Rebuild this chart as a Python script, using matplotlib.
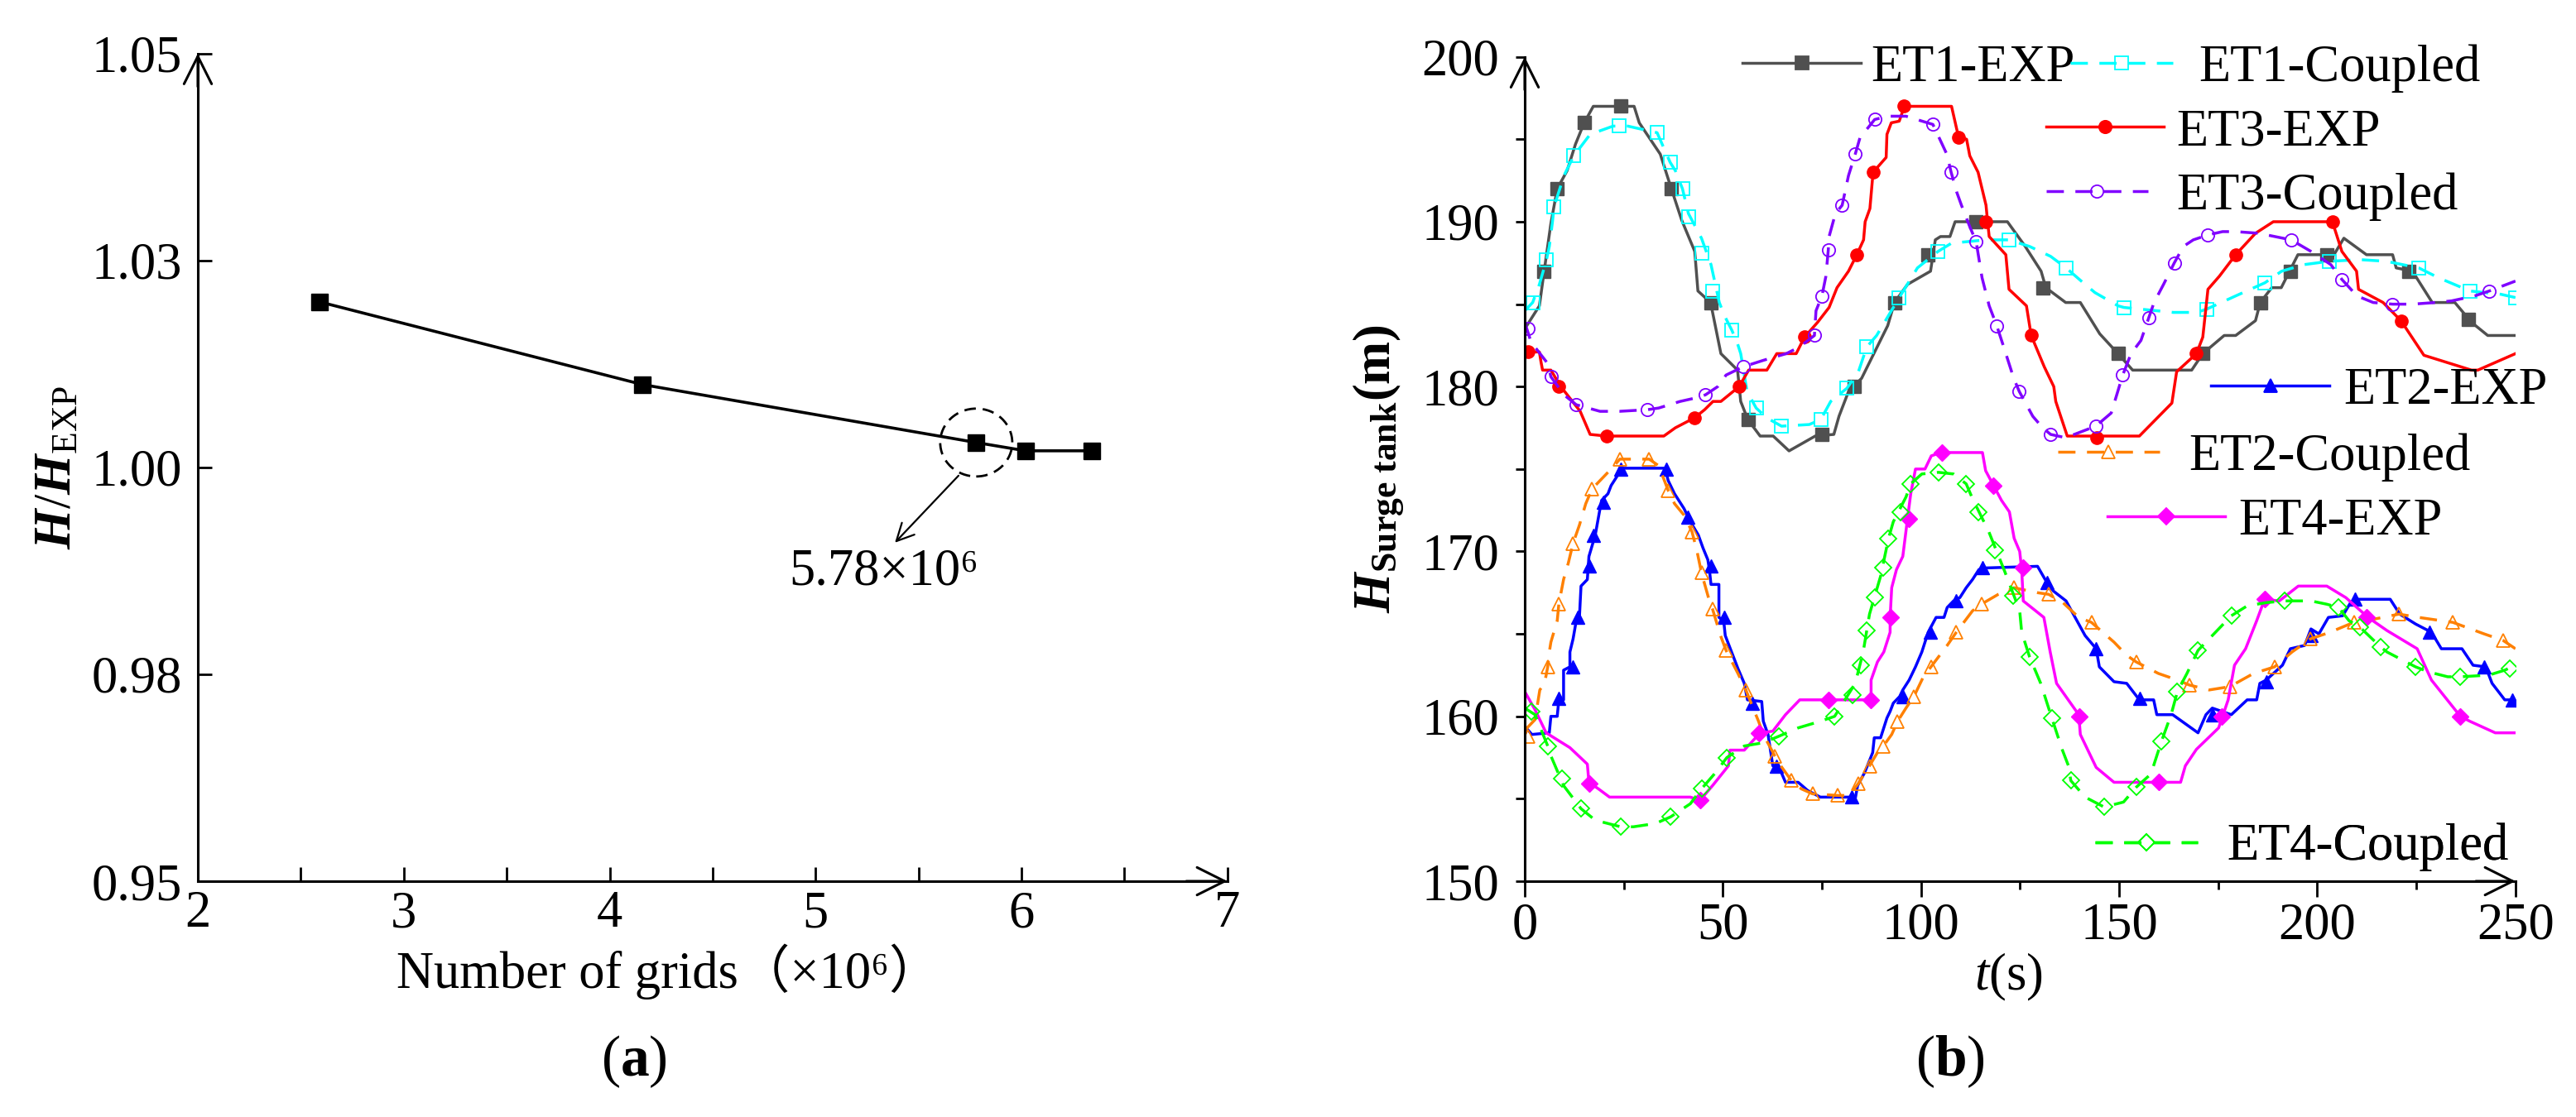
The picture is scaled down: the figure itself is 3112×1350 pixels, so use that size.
import matplotlib
matplotlib.use("Agg")
import numpy as np
import matplotlib.pyplot as plt
from matplotlib.patches import Ellipse
from matplotlib.ticker import MultipleLocator, FixedLocator
from matplotlib.lines import Line2D

FONTS = ['Liberation Serif', 'Noto Sans CJK SC', 'DejaVu Serif']
plt.rcParams['font.family'] = FONTS
plt.rcParams['mathtext.fontset'] = 'custom'
plt.rcParams['mathtext.rm'] = 'Liberation Serif'
plt.rcParams['mathtext.it'] = 'Liberation Serif:italic'
plt.rcParams['mathtext.bf'] = 'Liberation Serif:bold'
plt.rcParams['mathtext.bfit'] = 'Liberation Serif:italic:bold'

# ---- panel (a): grid independence ----
grids = [2.59, 4.16, 5.78, 6.02, 6.34]
ratio = [1.020, 1.010, 1.003, 1.002, 1.002]
a_yticks = [0.95, 0.975, 1.00, 1.025, 1.05]
a_yticklabels = ['0.95', '0.98', '1.00', '1.03', '1.05']

# ---- panel (b): surge tank level, lines (t, H) and marker points ----
et1_exp_t = [0, 3.7, 4.9, 6.6, 8.2, 10.7, 12.8, 15.0, 17.3, 27.6, 28.9, 34.2, 37.0, 39.6, 42.9, 43.7, 46.9, 49.5,
             53.7, 54.5, 56.3, 59.4, 62.7, 66.7, 73.3, 78.0, 79.3, 81.7, 85.0, 91.6, 93.3, 96.6, 102.4, 103.6,
             104.9, 107.3, 108.6, 121.8, 126.3, 130.3, 131.5, 136.5, 140.2, 145.1, 149.7, 153.4, 168.3, 171.1,
             176.5, 179.4, 184.4, 185.6, 188.5, 190.9, 195.1, 204.2, 206.7, 212.4, 219.0, 219.9, 224.0, 229.0,
             234.7, 238.9, 243.0, 250.0]
et1_exp_h = [183.5, 184.9, 187.0, 189.9, 192.0, 193.1, 194.7, 196.0, 197.0, 197.0, 196.0, 194.1, 192.0, 190.1,
             188.2, 185.8, 185.1, 182.0, 181.0, 179.1, 178.0, 177.0, 177.0, 176.1, 177.0, 177.1, 178.2, 179.7,
             180.5, 183.7, 185.1, 186.2, 187.0, 188.9, 189.1, 189.1, 190.0, 190.0, 188.5, 187.0, 186.0, 185.1,
             185.1, 183.2, 182.0, 181.0, 181.0, 182.0, 183.1, 183.1, 184.0, 185.1, 186.0, 186.0, 188.0, 188.0,
             189.0, 188.0, 188.0, 187.2, 187.0, 185.1, 185.1, 183.9, 183.1, 183.1]
et1_exp_mt = [4.9, 8.2, 15.0, 24.3, 37.0, 46.9, 56.3, 75.0, 83.1, 93.3, 101.7, 113.8, 130.7, 149.7, 171.1,
              185.6, 193.3, 202.5, 223.0, 238.2]
et1_exp_mh = [187.0, 192.0, 196.0, 197.0, 192.0, 185.1, 178.0, 177.1, 180.0, 185.1, 188.0, 190.0, 186.0,
              182.0, 182.0, 185.1, 187.0, 188.0, 187.0, 184.1]

et1_cp_t = [0, 2.0, 3.7, 5.5, 6.2, 7.0, 7.4, 9.9, 12.4, 16.5, 22.3, 26.0, 33.4, 36.7, 38.0, 39.8, 41.3, 44.6,
            47.0, 49.1, 50.4, 52.3, 53.7, 54.5, 56.1, 58.4, 61.1, 64.8, 71.8, 74.7, 77.2, 81.3, 84.2, 86.3, 88.8,
            94.5, 99.1, 104.3, 107.7, 116.4, 122.2, 127.4, 132.7, 136.6, 141.4, 143.9, 149.7, 151.2, 163.7,
            169.5, 172.1, 179.4, 186.8, 191.0, 196.7, 203.0, 210.8, 217.4, 225.6, 230.6, 238.5, 246.3, 250.0]
et1_cp_h = [184.6, 185.1, 186.2, 187.7, 188.5, 190.0, 190.9, 192.8, 194.0, 195.3, 195.8, 195.8, 195.4, 193.6,
            193.1, 192.0, 190.5, 189.0, 187.4, 185.1, 184.3, 183.4, 182.6, 182.0, 179.7, 178.7, 178.1, 177.6,
            177.7, 178.0, 179.1, 179.9, 180.9, 182.4, 183.1, 185.4, 187.2, 188.2, 188.7, 188.9, 188.9, 188.5,
            187.9, 187.2, 186.2, 185.7, 184.9, 184.8, 184.5, 184.5, 184.7, 185.5, 186.3, 187.0, 187.4, 187.6,
            187.7, 187.6, 187.2, 186.6, 185.8, 185.6, 185.4]
et1_cp_mt = [2.0, 5.5, 7.4, 12.4, 23.9, 33.4, 36.7, 39.8, 41.3, 44.6, 47.5, 52.3, 58.4, 64.8, 74.7, 81.3, 86.3,
             94.5, 104.3, 122.2, 136.6, 151.2, 172.1, 186.8, 203.0, 225.6, 238.5, 250.0]
et1_cp_mh = [185.1, 187.7, 190.9, 194.0, 195.8, 195.4, 193.6, 192.0, 190.3, 188.1, 185.8, 183.4, 178.7, 177.6,
             178.0, 179.9, 182.4, 185.4, 188.2, 188.9, 187.2, 184.8, 184.7, 186.3, 187.6, 187.2, 185.8, 185.4]

et3_exp_t = [0, 3.7, 4.1, 4.5, 6.6, 9.1, 14.0, 16.5, 20.6, 35.1, 38.0, 42.8, 45.4, 47.5, 49.5, 54.1, 56.5, 61.1,
             63.6, 68.5, 70.6, 73.9, 76.8, 78.8, 81.7, 83.8, 85.5, 85.9, 87.1, 87.9, 91.2, 91.4, 92.5, 94.5, 95.8,
             107.7, 109.4, 111.5, 112.3, 114.4, 116.4, 116.8, 117.2, 121.4, 122.2, 126.6, 127.8, 131.1, 133.5,
             134.0, 136.9, 155.1, 163.3, 164.5, 169.5, 171.1, 172.4, 175.3, 179.4, 184.4, 188.9, 203.8, 206.2,
             209.9, 210.4, 216.6, 221.1, 226.9, 238.9, 240.5, 250.0]
et3_exp_h = [182.1, 182.1, 181.5, 181.0, 181.0, 180.0, 178.5, 177.1, 177.0, 177.0, 177.5, 178.1, 178.6, 179.1,
             179.1, 180.0, 181.0, 181.0, 182.0, 182.0, 183.0, 183.9, 184.8, 186.0, 187.0, 188.0, 188.9, 190.0,
             190.8, 193.0, 193.9, 195.3, 196.0, 196.1, 197.0, 197.0, 195.2, 195.0, 194.0, 193.0, 191.0, 190.0,
             189.1, 188.0, 185.9, 184.9, 183.1, 181.2, 180.0, 179.1, 177.0, 177.0, 179.0, 180.9, 182.0, 183.0,
             185.9, 186.7, 188.0, 189.3, 190.0, 190.0, 188.2, 187.0, 185.9, 185.1, 184.0, 181.9, 181.0, 181.0, 182.0]
et3_exp_mt = [0.8, 8.6, 20.6, 42.8, 54.2, 70.6, 83.8, 87.9, 95.6, 109.4, 116.4, 127.8, 144.3, 169.5, 179.4,
              203.8, 221.1]
et3_exp_mh = [182.1, 180.0, 177.0, 178.1, 180.0, 183.0, 188.0, 193.0, 197.0, 195.1, 190.0, 183.1, 176.9,
              182.0, 188.0, 190.0, 184.0]

et3_cp_t = [0, 1.6, 5.8, 6.6, 9.9, 13.0, 19.0, 23.9, 31.0, 33.8, 39.2, 42.9, 45.6, 48.7, 50.8, 55.1, 60.3, 66.0,
            69.3, 73.1, 73.5, 75.0, 76.0, 76.6, 76.8, 78.4, 80.1, 81.7, 83.4, 84.6, 88.3, 91.6, 96.2, 103.0,
            106.5, 107.6, 109.0, 110.2, 112.3, 113.9, 115.4, 117.2, 119.1, 120.6, 121.8, 123.4, 124.8, 128.2,
            130.7, 132.7, 136.5, 144.1, 148.0, 150.9, 153.0, 155.5, 157.5, 158.8, 161.2, 163.9, 166.2, 168.7,
            172.4, 176.1, 179.4, 185.2, 189.3, 193.4, 198.4, 203.4, 206.2, 210.0, 214.1, 219.0, 224.0, 229.8,
            233.9, 239.7, 243.4, 250.0]
et3_cp_h = [183.9, 182.7, 181.4, 180.6, 179.5, 178.9, 178.5, 178.5, 178.6, 178.7, 179.1, 179.3, 179.5, 180.0,
            180.7, 181.2, 181.6, 182.0, 182.4, 183.1, 184.6, 185.5, 186.7, 188.3, 189.1, 190.5, 191.0, 192.8,
            194.1, 195.1, 196.2, 196.4, 196.4, 195.9, 194.1, 193.0, 191.8, 191.0, 189.7, 188.8, 186.6, 184.9,
            183.7, 182.6, 181.7, 180.5, 179.7, 178.2, 177.5, 177.1, 176.9, 177.6, 178.4, 180.7, 182.0, 182.8,
            184.2, 185.1, 186.2, 187.5, 188.5, 188.9, 189.2, 189.4, 189.4, 189.3, 189.1, 188.9, 188.2, 187.4,
            186.5, 185.5, 185.1, 185.0, 185.0, 185.1, 185.2, 185.5, 185.8, 186.4]
et3_cp_mt = [0.8, 6.6, 13.0, 31.0, 45.6, 55.1, 73.1, 75.0, 76.6, 80.1, 83.4, 88.3, 103.0, 107.6, 113.9, 119.1,
             124.7, 132.7, 144.1, 150.9, 157.5, 163.9, 172.4, 193.4, 206.2, 219.0, 243.4]
et3_cp_mh = [183.5, 180.6, 178.9, 178.6, 179.5, 181.2, 183.1, 185.5, 188.3, 191.0, 194.1, 196.2, 195.9, 193.0,
             188.8, 183.7, 179.7, 177.1, 177.6, 180.7, 184.2, 187.5, 189.2, 188.9, 186.5, 185.0, 185.8]

et2_exp_t = [0, 1.8, 6.2, 6.6, 8.2, 8.6, 9.8, 9.8, 11.4, 11.4, 12.2, 13.0, 13.8, 14.2, 15.8, 16.2, 17.8, 19.0,
             19.4, 21.0, 21.8, 23.4, 24.2, 35.4, 36.2, 37.8, 40.2, 41.8, 43.8, 45.0, 46.2, 46.6, 47.0, 49.0, 49.0,
             50.2, 50.6, 52.2, 53.8, 55.4, 56.2, 59.8, 60.2, 61.4, 62.6, 64.2, 65.8, 69.0, 71.4, 74.6, 81.8, 83.4,
             84.0, 85.8, 87.8, 88.2, 89.8, 91.4, 92.2, 93.0, 94.6, 95.4, 97.0, 98.6, 100.2, 101.8, 103.8, 105.8,
             106.6, 108.2, 109.8, 111.4, 113.0, 114.6, 116.3, 129.4, 131.8, 133.4, 136.6, 139.8, 141.4, 144.2,
             145.0, 148.7, 151.9, 155.1, 158.7, 159.5, 163.5, 169.9, 171.9, 173.5, 178.3, 182.3, 184.7, 185.5,
             187.1, 191.2, 193.2, 196.8, 198.4, 200.4, 202.8, 206.4, 208.4, 209.6, 218.4, 220.8, 224.8, 228.8,
             231.3, 236.5, 239.3, 242.5, 244.1, 247.3, 250.0]
et2_exp_h = [159.4, 158.9, 159.0, 160.0, 160.0, 161.0, 161.0, 162.8, 163.0, 163.9, 164.7, 165.8, 166.0, 167.9,
             168.3, 169.7, 171.0, 172.6, 173.1, 173.5, 174.0, 174.6, 175.05, 175.05, 174.3, 173.5, 172.6, 171.8,
             171.0, 170.2, 169.5, 168.9, 168.0, 168.0, 166.0, 165.8, 164.9, 163.9, 162.9, 162.0, 161.0, 160.9,
             159.7, 158.9, 157.0, 156.9, 156.0, 156.0, 155.5, 155.1, 155.1, 155.0, 155.8, 156.6, 157.8, 158.7,
             158.7, 159.9, 160.3, 160.8, 161.2, 161.6, 162.2, 163.0, 163.9, 165.1, 166.0, 166.0, 166.6, 167.0,
             167.2, 167.8, 168.3, 168.9, 169.0, 169.1, 168.1, 167.6, 167.0, 165.6, 164.9, 164.1, 163.0, 162.1,
             162.0, 161.0, 161.0, 160.1, 160.1, 159.0, 160.1, 160.5, 160.1, 161.0, 161.0, 162.0, 162.2, 163.1,
             164.1, 164.3, 165.3, 165.0, 166.0, 166.1, 166.9, 167.1, 167.1, 166.2, 165.6, 165.1, 164.1, 164.1,
             163.1, 163.0, 162.0, 161.0, 161.0]
et2_exp_mt = [8.6, 12.2, 13.4, 16.3, 17.4, 19.8, 24.2, 35.8, 41.2, 47.0, 50.4, 57.4, 63.4, 82.6, 95.4, 102.4,
              108.9, 115.5, 131.8, 144.1, 155.1, 173.5, 187.2, 198.4, 209.6, 228.4, 242.1, 249.1]
et2_exp_mh = [161.1, 163.0, 166.0, 169.1, 171.0, 173.0, 175.0, 175.0, 172.1, 169.1, 166.0, 160.8, 157.0, 155.1,
              161.2, 165.1, 167.0, 169.0, 168.1, 164.1, 161.1, 160.1, 162.1, 164.9, 167.1, 165.1, 163.0, 161.0]

et2_cp_t = [0.2, 2.6, 3.8, 5.0, 5.8, 6.2, 6.6, 8.2, 8.6, 9.8, 11.0, 12.2, 13.8, 15.4, 17.0, 21.8, 24.0, 31.4, 33.8,
            36.2, 37.8, 40.2, 42.2, 43.4, 44.6, 46.6, 47.4, 49.4, 50.8, 53.8, 55.8, 57.8, 59.0, 60.2, 63.1, 64.6,
            67.3, 69.8, 72.6, 79.0, 81.8, 84.1, 85.4, 87.0, 89.0, 90.5, 92.6, 94.1, 96.2, 98.2, 100.6, 102.5,
            106.6, 108.9, 113.0, 115.2, 119.5, 123.5, 129.4, 132.2, 135.8, 139.8, 143.0, 148.7, 151.9, 154.3,
            159.9, 164.7, 167.7, 172.7, 177.9, 183.9, 189.2, 193.6, 198.3, 203.2, 209.2, 214.4, 220.6, 225.6,
            234.2, 242.1, 246.9, 250.0]
et2_cp_h = [159.2, 159.8, 161.6, 162.0, 163.0, 163.9, 164.5, 165.8, 166.8, 168.3, 169.3, 170.5, 171.6, 172.9,
            173.8, 175.0, 175.6, 175.6, 175.2, 173.7, 172.9, 172.2, 171.2, 170.1, 168.7, 167.0, 166.5, 164.9,
            164.0, 162.6, 161.6, 160.4, 159.7, 158.9, 157.6, 157.0, 156.1, 155.6, 155.3, 155.2, 155.2, 155.9,
            156.4, 157.0, 157.8, 158.2, 158.9, 159.7, 160.5, 161.2, 162.4, 163.0, 164.3, 165.1, 166.4, 166.8,
            167.4, 167.8, 167.5, 167.4, 166.9, 166.0, 165.7, 164.5, 163.7, 163.3, 162.6, 162.2, 161.9, 161.6,
            161.8, 162.6, 163.0, 163.9, 164.7, 165.1, 165.7, 165.9, 166.2, 166.0, 165.7, 165.0, 164.6, 164.1]
et2_cp_mt = [0.8, 5.8, 8.6, 12.2, 17.0, 24.0, 31.4, 36.2, 42.2, 44.6, 47.4, 50.8, 55.8, 63.1, 67.3, 72.6, 79.0,
             84.1, 87.0, 90.5, 94.1, 98.2, 102.5, 108.9, 115.2, 123.5, 132.2, 143.0, 154.3, 167.7, 177.9, 189.2,
             198.3, 209.2, 220.6, 234.2, 246.9]
et2_cp_mh = [158.8, 163.0, 166.8, 170.5, 173.8, 175.6, 175.6, 173.7, 171.2, 168.7, 166.5, 164.0, 161.6, 157.6,
             156.1, 155.3, 155.2, 155.9, 157.0, 158.2, 159.7, 161.2, 163.0, 165.1, 166.8, 167.8, 167.4, 165.7,
             163.3, 161.9, 161.8, 163.0, 164.7, 165.7, 166.2, 165.7, 164.6]

et4_exp_t = [0, 2.6, 5.4, 7.4, 11.4, 15.8, 16.2, 18.6, 21.4, 41.8, 44.2, 47.4, 51.4, 51.8, 55.4, 59.4, 62.6, 65.8,
             69.4, 87.4, 87.4, 89.0, 90.6, 92.2, 92.2, 92.6, 93.8, 95.4, 96.6, 97.4, 98.6, 101.0, 102.6, 105.0,
             115.5, 116.3, 118.3, 120.3, 122.3, 123.5, 124.9, 125.4, 125.8, 131.0, 132.6, 134.2, 139.8, 140.2,
             144.2, 148.7, 165.5, 166.7, 169.5, 175.1, 177.5, 179.1, 181.9, 184.7, 186.7, 190.4, 195.2, 202.4,
             207.2, 212.8, 217.6, 225.2, 228.8, 236.1, 238.5, 244.9, 250.0]
et4_exp_h = [161.5, 160.4, 159.0, 158.7, 158.1, 157.1, 156.0, 155.6, 155.1, 155.1, 154.9, 155.8, 157.0, 157.95,
             157.95, 159.0, 159.1, 160.1, 161.0, 161.0, 162.2, 163.3, 163.9, 165.1, 166.0, 167.8, 168.9, 169.7,
             172.0, 173.5, 175.0, 175.0, 175.8, 176.0, 176.0, 174.9, 174.0, 173.1, 172.4, 170.8, 170.0, 168.9,
             167.0, 166.0, 163.9, 162.0, 160.1, 158.9, 156.9, 156.0, 156.0, 157.0, 158.0, 159.3, 161.0, 163.1,
             164.1, 165.8, 167.1, 167.0, 167.9, 167.9, 167.2, 166.0, 165.2, 164.1, 162.2, 160.0, 159.7, 159.0, 159.0]
et4_exp_mt = [16.2, 44.2, 59.2, 76.6, 87.4, 92.4, 97.0, 105.2, 118.3, 125.8, 140.0, 160.0, 175.9, 186.7, 212.4,
              236.1]
et4_exp_mh = [155.9, 154.9, 159.0, 161.0, 161.0, 166.0, 172.0, 176.0, 174.0, 169.0, 160.0, 156.0, 160.0, 167.1,
              166.0, 160.0]

et4_cp_t = [0, 2.6, 5.8, 6.6, 9.8, 14.2, 17.8, 24.2, 27.4, 33.0, 36.8, 41.8, 44.6, 48.2, 51.0, 55.4, 60.2, 64.2,
            69.0, 74.6, 78.2, 83.4, 85.4, 87.0, 89.8, 91.8, 93.0, 96.2, 97.4, 100.2, 104.4, 108.2, 111.4, 113.0,
            117.1, 121.1, 124.9, 125.4, 127.4, 130.2, 133.0, 135.6, 137.2, 137.8, 141.4, 146.2, 151.1, 154.3,
            158.0, 160.7, 163.1, 164.7, 167.1, 169.9, 174.3, 178.3, 182.3, 187.2, 191.8, 198.4, 202.4, 205.4,
            208.0, 210.8, 216.0, 217.6, 224.8, 228.0, 232.9, 236.1, 243.3, 247.3, 250.0]
et4_cp_h = [160.5, 160.1, 158.2, 157.6, 155.8, 154.4, 153.7, 153.3, 153.3, 153.5, 153.9, 154.7, 155.6, 156.6,
            157.5, 158.2, 158.4, 158.8, 159.3, 159.7, 160.0, 162.0, 163.9, 166.2, 168.5, 170.8, 171.8, 173.3,
            174.1, 174.7, 174.8, 174.7, 174.1, 173.2, 171.2, 168.8, 166.4, 165.1, 163.6, 162.0, 159.9, 158.0,
            157.0, 156.1, 155.1, 154.5, 154.8, 155.7, 156.5, 158.5, 160.1, 161.5, 162.6, 164.0, 165.1, 166.1,
            166.7, 166.9, 167.0, 167.0, 166.8, 166.6, 165.8, 165.4, 164.2, 163.9, 163.0, 162.7, 162.4, 162.4,
            162.5, 162.8, 163.1]
et4_cp_mt = [1.6, 5.8, 9.4, 14.2, 24.2, 36.8, 44.6, 51.0, 64.2, 78.2, 82.8, 84.9, 86.2, 88.4, 90.4, 91.8, 94.8,
             97.4, 104.4, 111.4, 114.5, 118.7, 123.3, 127.4, 133.0, 137.8, 146.2, 154.3, 160.7, 164.7, 169.9,
             178.3, 191.8, 205.4, 210.8, 216.0, 224.8, 236.1, 248.5]
et4_cp_mh = [160.3, 158.2, 156.2, 154.4, 153.3, 153.9, 155.6, 157.5, 158.8, 160.0, 161.3, 163.1, 165.2, 167.2,
             169.0, 170.8, 172.4, 174.1, 174.8, 174.1, 172.4, 170.1, 167.3, 163.6, 159.9, 156.1, 154.5, 155.7,
             158.5, 161.5, 164.0, 166.1, 167.0, 166.6, 165.4, 164.2, 163.0, 162.4, 162.9]

# label, line data, marker data, colour, marker, filled, linestyle, legend anchor (axes frac), text pad
series = [
    ('ET1-EXP', et1_exp_t, et1_exp_h, et1_exp_mt, et1_exp_mh, '#505050', 's', True, '-', (0.220, 0.986), 0.2),
    ('ET1-Coupled', et1_cp_t, et1_cp_h, et1_cp_mt, et1_cp_mh, '#00FFFF', 's', False, '--', (0.551, 0.986), 0.5),
    ('ET3-EXP', et3_exp_t, et3_exp_h, et3_exp_mt, et3_exp_mh, '#FF0000', 'o', True, '-', (0.526, 0.908), 0.25),
    ('ET3-Coupled', et3_cp_t, et3_cp_h, et3_cp_mt, et3_cp_mh, '#8000FF', 'o', False, '--', (0.526, 0.830), 0.55),
    ('ET2-EXP', et2_exp_t, et2_exp_h, et2_exp_mt, et2_exp_mh, '#0000FF', '^', True, '-', (0.693, 0.594), 0.28),
    ('ET2-Coupled', et2_cp_t, et2_cp_h, et2_cp_mt, et2_cp_mh, '#FF8000', '^', False, '--', (0.538, 0.514), 0.57),
    ('ET4-EXP', et4_exp_t, et4_exp_h, et4_exp_mt, et4_exp_mh, '#FF00FF', 'D', True, '-', (0.588, 0.436), 0.25),
    ('ET4-Coupled', et4_cp_t, et4_cp_h, et4_cp_mt, et4_cp_mh, '#00FF00', 'D', False, '--', (0.576, 0.041), 0.57),
]
msize = {'s': 11, 'o': 11, '^': 12, 'D': 10}

FS = 45
fig = plt.figure(figsize=(31.12, 13.5), dpi=100)
axa = fig.add_axes([0.0768, 0.2111, 0.3997, 0.7410])
axb = fig.add_axes([0.5919, 0.2111, 0.3846, 0.7380])


def axis_arrows(ax):
    kw = dict(xycoords='axes fraction', textcoords='axes fraction', annotation_clip=False,
              arrowprops=dict(arrowstyle='->,head_length=0.8,head_width=0.4', lw=2.2,
                              color='black', mutation_scale=30, shrinkA=0, shrinkB=0))
    ax.annotate('', xy=(1.0, 0.0), xytext=(0.96, 0.0), **kw)
    ax.annotate('', xy=(0.0, 1.0), xytext=(0.0, 0.96), **kw)
    for s in ['top', 'right']:
        ax.spines[s].set_visible(False)
    for s in ['left', 'bottom']:
        ax.spines[s].set_linewidth(2.2)


# ---- panel (a) ----
axa.plot(grids, ratio, color='black', lw=2.6, marker='s', ms=14, mfc='black', mec='black')
axa.add_patch(Ellipse((5.78, 1.003), 0.35, 0.0082, fill=False, ls=(0, (5, 3)), lw=2.0, color='black'))
axa.text(5.33, 0.9873, '5.78×10⁶', fontsize=FS, ha='center', va='center', family=FONTS)
axa.annotate('', xy=(5.385, 0.9909), xytext=(5.694, 0.9990),
             arrowprops=dict(arrowstyle='->,head_length=0.6,head_width=0.3', lw=1.6, color='black',
                             mutation_scale=25, shrinkA=0, shrinkB=0))
axa.set_xlim(2, 7)
axa.set_ylim(0.95, 1.05)
axa.xaxis.set_major_locator(MultipleLocator(1))
axa.xaxis.set_minor_locator(MultipleLocator(0.5))
axa.yaxis.set_major_locator(FixedLocator(a_yticks))
axa.set_yticklabels(a_yticklabels)
axa.tick_params(which='both', direction='in', length=12, width=2, labelsize=FS)
axa.tick_params(axis='x', pad=8)
axa.tick_params(axis='y', pad=14)
axa.set_xlabel('Number of grids（×10⁶）', fontsize=FS, va='top', family=FONTS)
axa.xaxis.set_label_coords(0.457, -0.075)
axa.set_ylabel(r'$\mathbfit{H}/\mathbfit{H}_{\mathrm{EXP}}$', fontsize=FS)
axa.yaxis.set_label_coords(-0.112, 0.5)
axis_arrows(axa)

# ---- panel (b) ----
for (lab, lt, lh, mt, mh, col, mk, filled, ls, anchor, tpad) in series:
    dash = (0, (6, 4)) if ls == '--' else '-'
    axb.plot(lt, lh, color=col, lw=2.5, ls=dash)
    axb.plot(mt, mh, ls='none', marker=mk, ms=msize[mk],
             mfc=col if filled else 'none', mec=col, mew=1.0 if filled else 1.3)
    handle = Line2D([], [], color=col, lw=2.5, ls=dash, marker=mk, ms=msize[mk],
                    mfc=col if filled else 'none', mec=col, mew=1.3)
    hl = 2.28 if ls == '-' else 1.97
    leg = axb.legend([handle], [lab], loc='center left', bbox_to_anchor=anchor, frameon=False,
                     fontsize=FS, borderpad=0, borderaxespad=0, handlelength=hl,
                     handletextpad=tpad, numpoints=1)
    axb.add_artist(leg)

axb.set_xlim(0, 250)
axb.set_ylim(150, 200)
axb.xaxis.set_major_locator(MultipleLocator(50))
axb.xaxis.set_minor_locator(MultipleLocator(25))
axb.yaxis.set_major_locator(MultipleLocator(10))
axb.yaxis.set_minor_locator(MultipleLocator(5))
axb.tick_params(which='both', direction='out', width=2, labelsize=FS)
axb.tick_params(axis='x', which='major', length=14, pad=4)
axb.tick_params(axis='x', which='minor', length=7)
axb.tick_params(axis='y', which='both', length=8, pad=14)
axb.set_xlabel(r'$\mathit{t}$(s)', fontsize=FS, va='top')
axb.xaxis.set_label_coords(0.488, -0.085)
axb.set_ylabel(r'$\mathbfit{H}_{\mathbf{Surge\ tank}}$(m)', fontsize=FS, fontweight='bold')
axb.yaxis.set_label_coords(-0.12, 0.5)
axis_arrows(axb)

fig.text(0.246, 0.0496, '($\\mathbf{a}$)', fontsize=50, ha='center', va='center')
fig.text(0.757, 0.0496, '($\\mathbf{b}$)', fontsize=50, ha='center', va='center')

fig.savefig('out.png', dpi=100)
